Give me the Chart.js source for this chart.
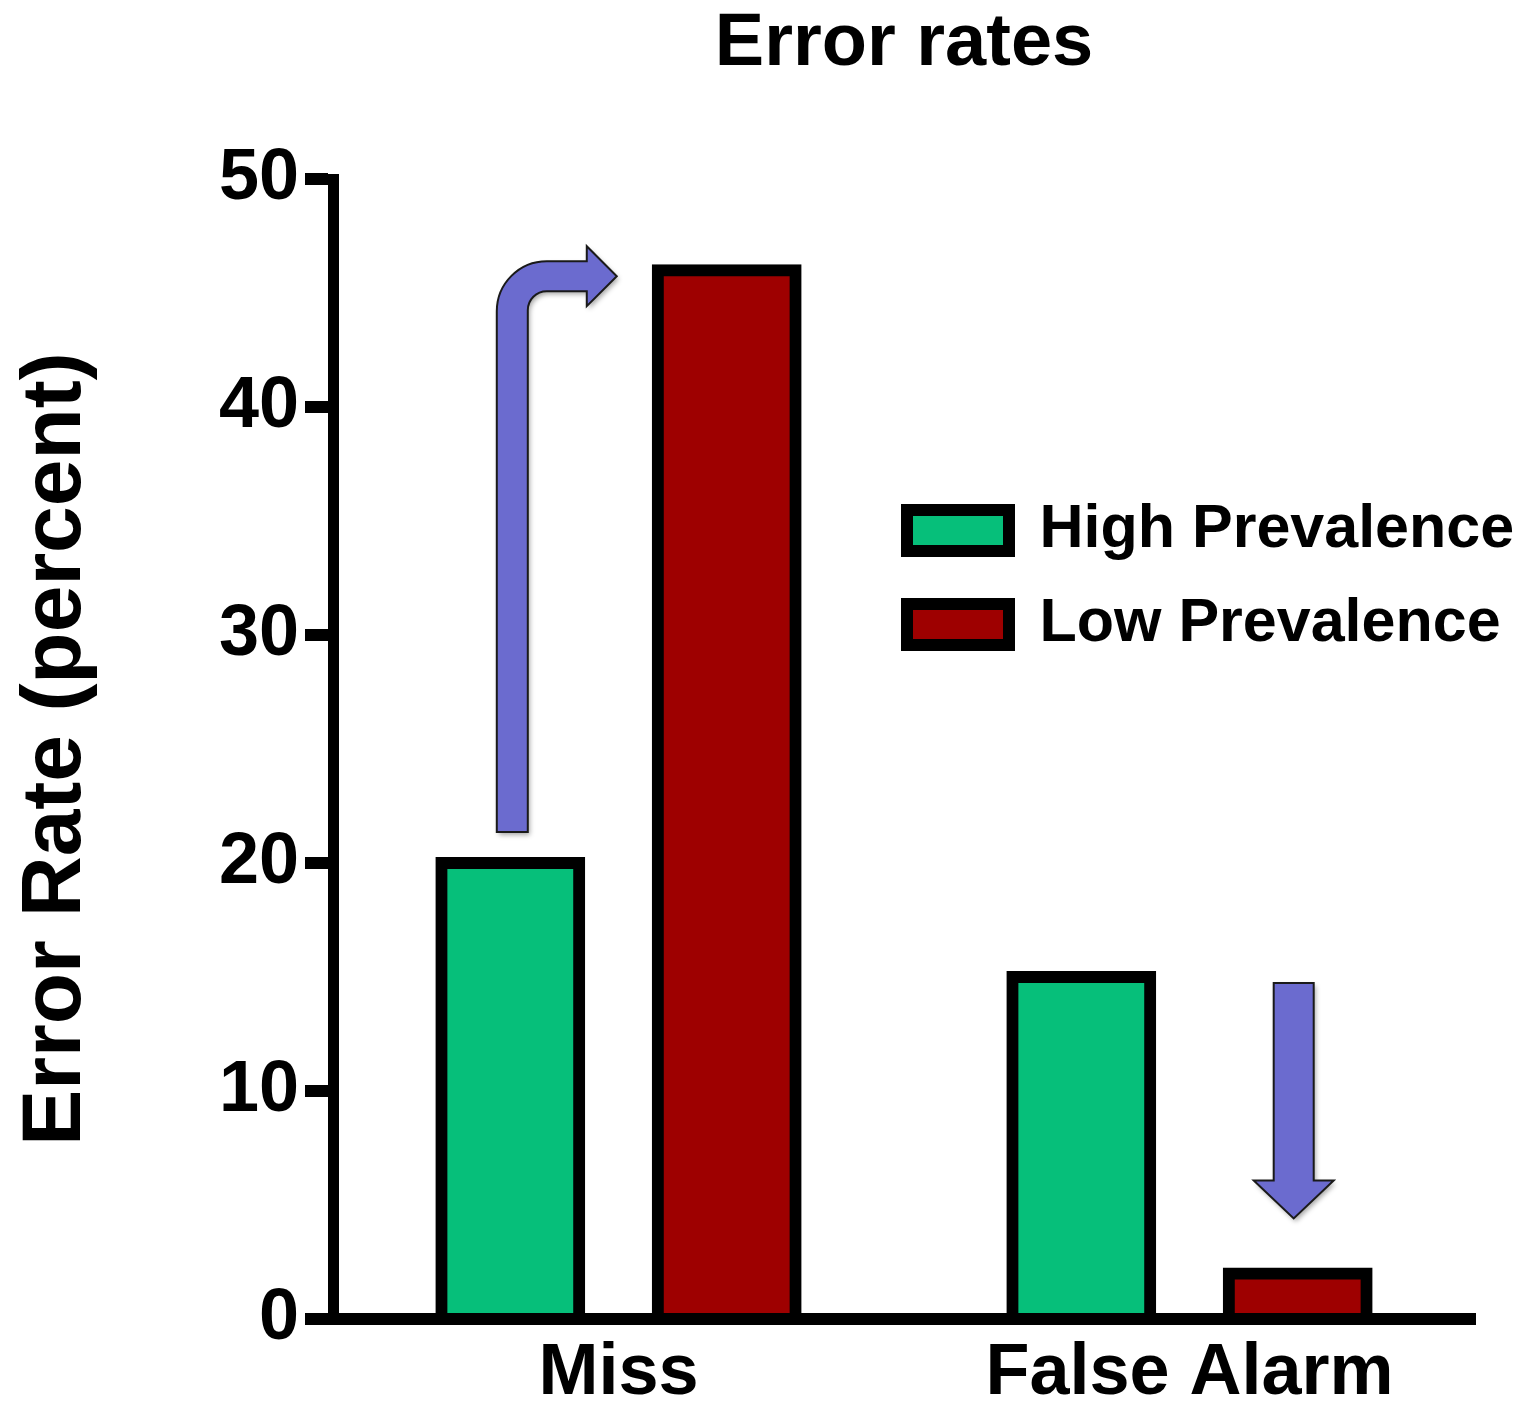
<!DOCTYPE html>
<html>
<head>
<meta charset="utf-8">
<title>Error rates</title>
<script src="https://cdn.jsdelivr.net/npm/chart.js@4.4.1/dist/chart.umd.min.js"></script>
<style>
  html, body { margin: 0; padding: 0; background: #ffffff; }
  #wrap { width: 1522px; height: 1411px; }
</style>
</head>
<body>
<div id="wrap"><canvas id="chart" width="1522" height="1411"></canvas></div>
<script>
// ---- data ----
const categories = ['Miss', 'False Alarm'];
const seriesNames = ['High Prevalence', 'Low Prevalence'];
const highPrevalence = [20, 15];
const lowPrevalence = [46, 2];
const yTicks = [0, 10, 20, 30, 40, 50];

const FONT = "'Liberation Sans', Arial, Helvetica, sans-serif";
const GREEN = '#06BF7A';
const RED = '#9E0000';
const ARROW_FILL = '#6B6BCF';

// Purple arrows showing the shift between the two prevalence conditions,
// anchored to the bars they point from / to.
const arrowPlugin = {
  id: 'shiftArrows',
  afterDatasetsDraw(chart) {
    const ctx = chart.ctx;
    const high = chart.getDatasetMeta(0).data;
    const low = chart.getDatasetMeta(1).data;

    const paint = (buildPath) => {
      ctx.save();
      ctx.beginPath();
      buildPath();
      ctx.closePath();
      ctx.shadowColor = 'rgba(0,0,0,0.35)';
      ctx.shadowBlur = 5;
      ctx.shadowOffsetX = 2;
      ctx.shadowOffsetY = 3;
      ctx.fillStyle = ARROW_FILL;
      ctx.fill();
      ctx.shadowColor = 'transparent';
      ctx.lineWidth = 2;
      ctx.lineJoin = 'miter';
      ctx.strokeStyle = '#1a1a1a';
      ctx.stroke();
      ctx.restore();
    };

    // Miss: bent arrow rising from the high-prevalence bar to the low-prevalence bar
    {
      const hb = high[0], lb = low[0];
      const cx = hb.x + 2;          // shaft centre
      const w = 15.5;               // half shaft width
      const by = hb.y - 31;         // shaft foot
      const tx = lb.x - lb.width / 2 - 41;  // tip
      const ty = lb.y + 6;
      const h = 15;                 // half width of the horizontal run
      const H = 30;                 // half height of the head
      const headX = tx - 30;
      const R = 50, r = R - 2 * w;
      paint(() => {
        ctx.moveTo(cx - w, by);
        ctx.lineTo(cx - w, ty - h + R);
        ctx.arc(cx - w + R, ty - h + R, R, Math.PI, 1.5 * Math.PI);
        ctx.lineTo(headX, ty - h);
        ctx.lineTo(headX, ty - H);
        ctx.lineTo(tx, ty);
        ctx.lineTo(headX, ty + H);
        ctx.lineTo(headX, ty + h);
        ctx.lineTo(cx + w + r, ty + h);
        ctx.arc(cx + w + r, ty + h + r, r, 1.5 * Math.PI, Math.PI, true);
        ctx.lineTo(cx + w, by);
      });
    }

    // False Alarm: straight arrow pointing down at the low-prevalence bar
    {
      const hb = high[1], lb = low[1];
      const cx = lb.x - 4;
      const w = 20;
      const top = hb.y + 6;
      const tipY = lb.y - 55;
      const headY = tipY - 38;
      const W = 40;
      paint(() => {
        ctx.moveTo(cx - w, top);
        ctx.lineTo(cx + w, top);
        ctx.lineTo(cx + w, headY);
        ctx.lineTo(cx + W, headY);
        ctx.lineTo(cx, tipY);
        ctx.lineTo(cx - W, headY);
        ctx.lineTo(cx - w, headY);
      });
    }
  }
};

// Places the legend inside the plot, to the right.
const legendPlacer = {
  id: 'legendPlacer',
  beforeDraw(chart) {
    const lg = chart.legend;
    if (!lg) return;
    const area = chart.chartArea;
    lg.left = 874;
    lg.top = 467;
    lg.right = area.right + 47;
    lg.bottom = area.bottom;
  }
};

new Chart(document.getElementById('chart'), {
  type: 'bar',
  data: {
    labels: categories,
    datasets: [
      {
        label: seriesNames[0],
        data: highPrevalence,
        backgroundColor: GREEN,
        borderColor: '#000000',
        borderWidth: 12,
        borderSkipped: 'bottom',
        inflateAmount: 6,
        categoryPercentage: 0.758,
        barPercentage: 0.637
      },
      {
        label: seriesNames[1],
        data: lowPrevalence,
        backgroundColor: RED,
        borderColor: '#000000',
        borderWidth: 12,
        borderSkipped: 'bottom',
        inflateAmount: 6,
        categoryPercentage: 0.758,
        barPercentage: 0.637
      }
    ]
  },
  options: {
    responsive: false,
    devicePixelRatio: 1,
    animation: false,
    events: [],
    layout: { padding: { left: 0, right: 47, top: 0, bottom: 0 } },
    plugins: {
      title: {
        display: true,
        text: 'Error rates',
        color: '#000000',
        fullSize: false,
        font: { family: FONT, size: 74, weight: 'bold', lineHeight: 1.2 },
        padding: { top: 0, bottom: 90.2 }
      },
      legend: {
        display: true,
        position: 'chartArea',
        align: 'start',
        labels: {
          color: '#000000',
          font: { family: FONT, size: 61, weight: 'bold' },
          boxWidth: 102,
          boxHeight: 41,
          padding: 33
        }
      },
      tooltip: { enabled: false }
    },
    scales: {
      x: {
        type: 'category',
        grid: { display: false, drawTicks: false },
        border: { display: true, width: 12, color: '#000000', z: 1 },
        ticks: {
          color: '#000000',
          font: { family: FONT, size: 72, weight: 'bold' },
          padding: 12,
          maxRotation: 0
        },
        afterFit(scale) { scale.height = 92; }
      },
      y: {
        min: 0,
        max: 50,
        grid: {
          display: true,
          drawOnChartArea: false,
          drawTicks: true,
          tickLength: 28,
          tickWidth: 12,
          tickColor: '#000000',
          lineWidth: 12,
          color: '#000000'
        },
        border: { display: true, width: 11, color: '#000000' },
        ticks: {
          color: '#000000',
          font: { family: FONT, size: 72, weight: 'bold' },
          padding: 6
        },
        afterBuildTicks(scale) {
          scale.ticks = yTicks.map(v => ({ value: v }));
        },
        title: {
          display: true,
          text: 'Error Rate (percent)',
          color: '#000000',
          font: { family: FONT, size: 84, weight: 'bold', lineHeight: 1.2 },
          padding: { top: 6, bottom: 0 }
        },
        afterFit(scale) { scale.width = 333; }
      }
    }
  },
  plugins: [legendPlacer, arrowPlugin]
});
</script>
</body>
</html>
